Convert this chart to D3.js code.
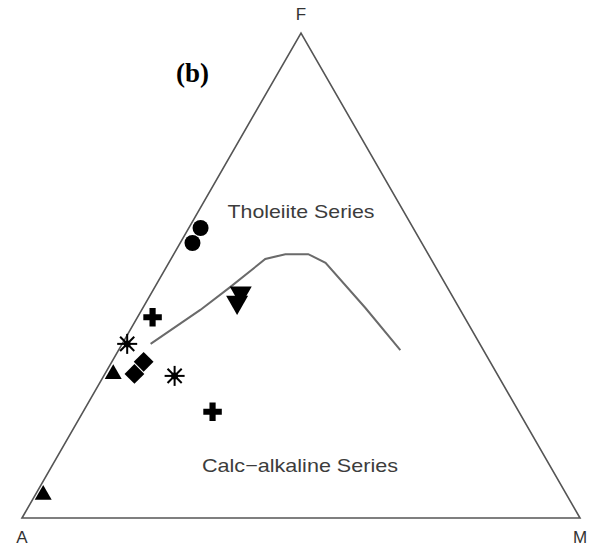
<!DOCTYPE html>
<html lang="en">
<head>
    <meta charset="UTF-8">
    <title>AFM ternary diagram (b)</title>
    <script src="https://d3js.org/d3.v7.min.js"></script>
    <style>
        body { margin: 0; background: #fff; }
        .vlabel { font-family: "Liberation Sans", Arial, sans-serif; font-size: 17px; fill: #333; }
        .field { font-family: "Liberation Sans", Arial, sans-serif; font-size: 19px; fill: #3c3c3c; }
    </style>
</head>
<body>
<script>
    // vertices of the diagram, as fractions [A, F, M]
    var vertexNames = ["A", "F", "M"];
    var vertices = [[1, 0, 0], [0, 1, 0], [0, 0, 1]];

    // Irvine & Baragar boundary [A, F, M]
    var boundary = [
        [0.590, 0.359, 0.051],
        [0.466, 0.429, 0.105],
        [0.389, 0.476, 0.135],
        [0.297, 0.534, 0.169],
        [0.256, 0.544, 0.200],
        [0.215, 0.544, 0.241],
        [0.193, 0.526, 0.281],
        [0.168, 0.433, 0.399],
        [0.149, 0.346, 0.505]
    ];

    // samples
    var sampleType = ["circle", "circle", "tridown", "tridown", "plus", "plus", "star", "star",
                      "diamond", "diamond", "triup", "triup"];
    var sampleA = [0.381, 0.411, 0.376, 0.392, 0.559, 0.549, 0.632, 0.580, 0.621, 0.650, 0.686, 0.936];
    var sampleF = [0.598, 0.567, 0.464, 0.445, 0.414, 0.219, 0.359, 0.293, 0.322, 0.297, 0.301, 0.052];
    var sampleM = [0.021, 0.022, 0.160, 0.163, 0.027, 0.232, 0.009, 0.127, 0.057, 0.053, 0.013, 0.012];

    var fieldLabels = ["Tholeiite Series", "Calc\u2212alkaline Series"];

    var width = 589, height = 550;
    var svg = d3.select("body").append("svg")
        .attr("width", width)
        .attr("height", height);

    // cartesian projection of the ternary coordinates
    var h = Math.sqrt(3) / 2;
    var x = d3.scaleLinear().domain([0, 1]).range([22, 580]);
    var y = d3.scaleLinear().domain([0, h]).range([518, 33]);
    function px(d) { return x(d[2] + d[1] / 2); }
    function py(d) { return y(d[1] * h); }

    // outline
    svg.append("path")
        .attr("d", d3.line().x(px).y(py)(vertices) + "Z")
        .attr("fill", "none")
        .attr("stroke", "#555")
        .attr("stroke-width", 1.6);

    // boundary curve
    svg.append("path")
        .attr("d", d3.line().x(px).y(py)(boundary))
        .attr("fill", "none")
        .attr("stroke", "#6a6a6a")
        .attr("stroke-width", 2);

    // vertex labels
    var labelOffset = [[0, 25], [0, -13], [0, 25]];
    svg.selectAll(".vlabel")
        .data(vertices)
        .enter().append("text")
        .attr("class", "vlabel")
        .attr("x", function (d, i) { return px(d) + labelOffset[i][0]; })
        .attr("y", function (d, i) { return py(d) + labelOffset[i][1]; })
        .attr("text-anchor", "middle")
        .text(function (d, i) { return vertexNames[i]; });

    // field names
    svg.append("text").attr("class", "field")
        .attr("x", 301).attr("y", 218)
        .attr("text-anchor", "middle")
        .attr("textLength", 147).attr("lengthAdjust", "spacingAndGlyphs")
        .text(fieldLabels[0]);
    svg.append("text").attr("class", "field")
        .attr("x", 300).attr("y", 472)
        .attr("text-anchor", "middle")
        .attr("textLength", 196).attr("lengthAdjust", "spacingAndGlyphs")
        .text(fieldLabels[1]);

    // panel letter
    svg.append("text")
        .attr("x", 176).attr("y", 82)
        .style("font-family", "'Liberation Serif', 'Times New Roman', serif")
        .style("font-weight", "bold")
        .style("font-size", "27px")
        .text("(b)");

    // markers
    var samples = sampleType.map(function (t, i) {
        return { type: t, d: [sampleA[i], sampleF[i], sampleM[i]] };
    });

    var g = svg.selectAll(".pt")
        .data(samples)
        .enter().append("g")
        .attr("class", "pt")
        .attr("transform", function (s) { return "translate(" + px(s.d) + "," + py(s.d) + ")"; });

    g.each(function (s) {
        var el = d3.select(this);
        if (s.type === "circle") {
            el.append("circle").attr("r", 8).attr("fill", "#000");
        } else if (s.type === "tridown") {
            el.append("path").attr("d", d3.symbol(d3.symbolTriangle, 210)())
                .attr("transform", "rotate(180)").attr("fill", "#000");
        } else if (s.type === "triup") {
            el.append("path").attr("d", d3.symbol(d3.symbolTriangle, 125)())
                .attr("transform", "translate(0,2)").attr("fill", "#000");
        } else if (s.type === "plus") {
            el.append("path").attr("d", d3.symbol(d3.symbolCross, 190)()).attr("fill", "#000");
        } else if (s.type === "diamond") {
            el.append("path").attr("d", d3.symbol(d3.symbolSquare, 196)())
                .attr("transform", "rotate(45)").attr("fill", "#000");
        } else if (s.type === "star") {
            [0, 45, 90, 135].forEach(function (a) {
                el.append("line")
                    .attr("x1", -10).attr("x2", 10)
                    .attr("y1", 0).attr("y2", 0)
                    .attr("transform", "rotate(" + a + ")")
                    .attr("stroke", "#000").attr("stroke-width", 2);
            });
            el.append("circle").attr("r", 3.5).attr("fill", "#000");
        }
    });
</script>
</body>
</html>
